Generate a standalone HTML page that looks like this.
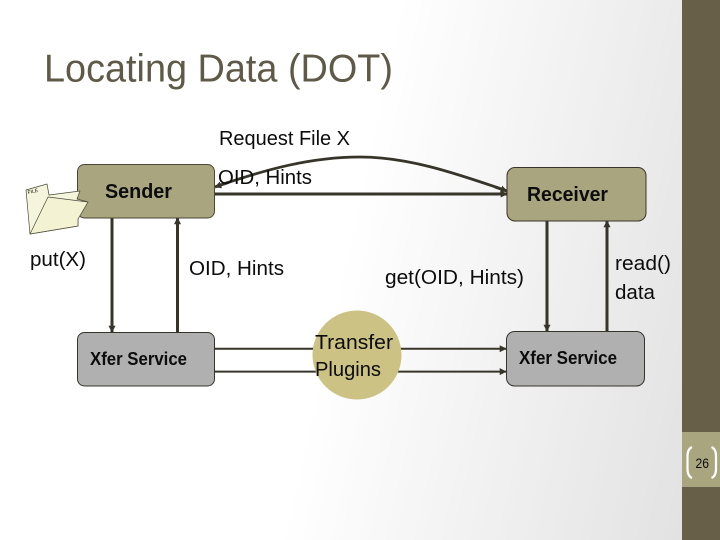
<!DOCTYPE html>
<html><head><meta charset="utf-8"><style>
html,body{margin:0;padding:0;width:720px;height:540px;overflow:hidden;background:#fff}
svg{display:block}
text{font-family:"Liberation Sans",sans-serif;fill:#0c0c0c}
</style></head><body>
<svg width="720" height="540" viewBox="0 0 720 540" xmlns="http://www.w3.org/2000/svg">
<defs>
<linearGradient id="bg" gradientUnits="userSpaceOnUse" x1="320" y1="360" x2="703" y2="445">
<stop offset="0" stop-color="#ffffff"/><stop offset="1" stop-color="#e2e2e3"/>
</linearGradient>
<marker id="a" viewBox="0 0 10 10" refX="9" refY="5" markerWidth="7" markerHeight="7" orient="auto" markerUnits="userSpaceOnUse"><path d="M0 0L10 5L0 10z" fill="#37342a"/></marker>
</defs>
<rect width="720" height="540" fill="url(#bg)"/>
<rect x="682" width="38" height="540" fill="#675f47"/>
<rect x="682" y="432" width="38" height="55" fill="#a9a67f"/>
<path d="M692 447Q687.500 449 687.500 456V469Q687.500 476 692 478" fill="none" stroke="#fff" stroke-width="2.200"/>
<path d="M711.500 447Q716 449 716 456V469Q716 476 711.500 478" fill="none" stroke="#fff" stroke-width="2.200"/>
<text x="695.500" y="468" font-size="14" textLength="13.500" lengthAdjust="spacingAndGlyphs">26</text>
<text x="44" y="81.500" font-size="39" style="fill:#5f5a48" textLength="349" lengthAdjust="spacingAndGlyphs">Locating Data (DOT)</text>

<g fill="none" stroke="#37342a">
<path d="M215 194H507" stroke-width="3" marker-end="url(#a)"/>
<path d="M222 184.500C265 170 310 157 360 157C410 157 460 175 500 188.500" stroke-width="2.800"/>
<path d="M228 182.500L215 187" stroke-width="2.800" marker-end="url(#a)"/>
<path d="M495 187L507 191" stroke-width="2.800" marker-end="url(#a)"/>
<path d="M112 218V332" stroke-width="3" marker-end="url(#a)"/>
<path d="M177.500 332V218" stroke-width="3" marker-end="url(#a)"/>
<path d="M547 221V331" stroke-width="3" marker-end="url(#a)"/>
<path d="M607 331V221" stroke-width="3" marker-end="url(#a)"/>
<path d="M215 348.700H506" stroke-width="2" marker-end="url(#a)"/>
<path d="M215 371.600H506" stroke-width="2" marker-end="url(#a)"/>
</g>

<rect x="77.500" y="164.500" width="137" height="53.500" rx="7" fill="#a9a67f" stroke="#4a4636"/>
<rect x="507" y="167.500" width="139" height="53.500" rx="8" fill="#a9a67f" stroke="#37342a"/>
<rect x="77.500" y="332.500" width="137" height="53.500" rx="7" fill="#b0b0b0" stroke="#37342a"/>
<rect x="506.500" y="331.500" width="138" height="54.500" rx="8" fill="#b0b0b0" stroke="#37342a"/>
<circle cx="357" cy="355" r="44.500" fill="#cbc284"/>

<g stroke="#4a4a38" stroke-width=".7" fill="#f5f4dc" stroke-linejoin="round">
<path d="M26 190L47 184L49 195L80 191L77 199L88 202L78 219V226L30 234Z"/>
<path d="M30 234L48 197L88 202L78 219V226Z" fill="#f3f2d2"/>
</g>
<text x="28" y="194" font-size="5" transform="rotate(-12 28 194)">FILE</text>

<g font-size="20">
<text x="219" y="145" textLength="131" lengthAdjust="spacingAndGlyphs">Request File X</text>
<text x="218" y="184" textLength="94" lengthAdjust="spacingAndGlyphs">OID, Hints</text>
<text x="30" y="266" textLength="56" lengthAdjust="spacingAndGlyphs">put(X)</text>
<text x="189" y="275" textLength="95" lengthAdjust="spacingAndGlyphs">OID, Hints</text>
<text x="385" y="284" textLength="139" lengthAdjust="spacingAndGlyphs">get(OID, Hints)</text>
<text x="615" y="270" textLength="56" lengthAdjust="spacingAndGlyphs">read()</text>
<text x="615" y="299" textLength="40" lengthAdjust="spacingAndGlyphs">data</text>
<text x="315" y="349" textLength="78" lengthAdjust="spacingAndGlyphs">Transfer</text>
<text x="315" y="376" textLength="66" lengthAdjust="spacingAndGlyphs">Plugins</text>
</g>
<g font-size="20" font-weight="bold">
<text x="105" y="198" textLength="67" lengthAdjust="spacingAndGlyphs">Sender</text>
<text x="527" y="201" textLength="81" lengthAdjust="spacingAndGlyphs">Receiver</text>
</g>
<g font-size="18" font-weight="bold">
<text x="90" y="365" textLength="97" lengthAdjust="spacingAndGlyphs">Xfer Service</text>
<text x="519" y="364" textLength="98" lengthAdjust="spacingAndGlyphs">Xfer Service</text>
</g>
</svg>
</body></html>
